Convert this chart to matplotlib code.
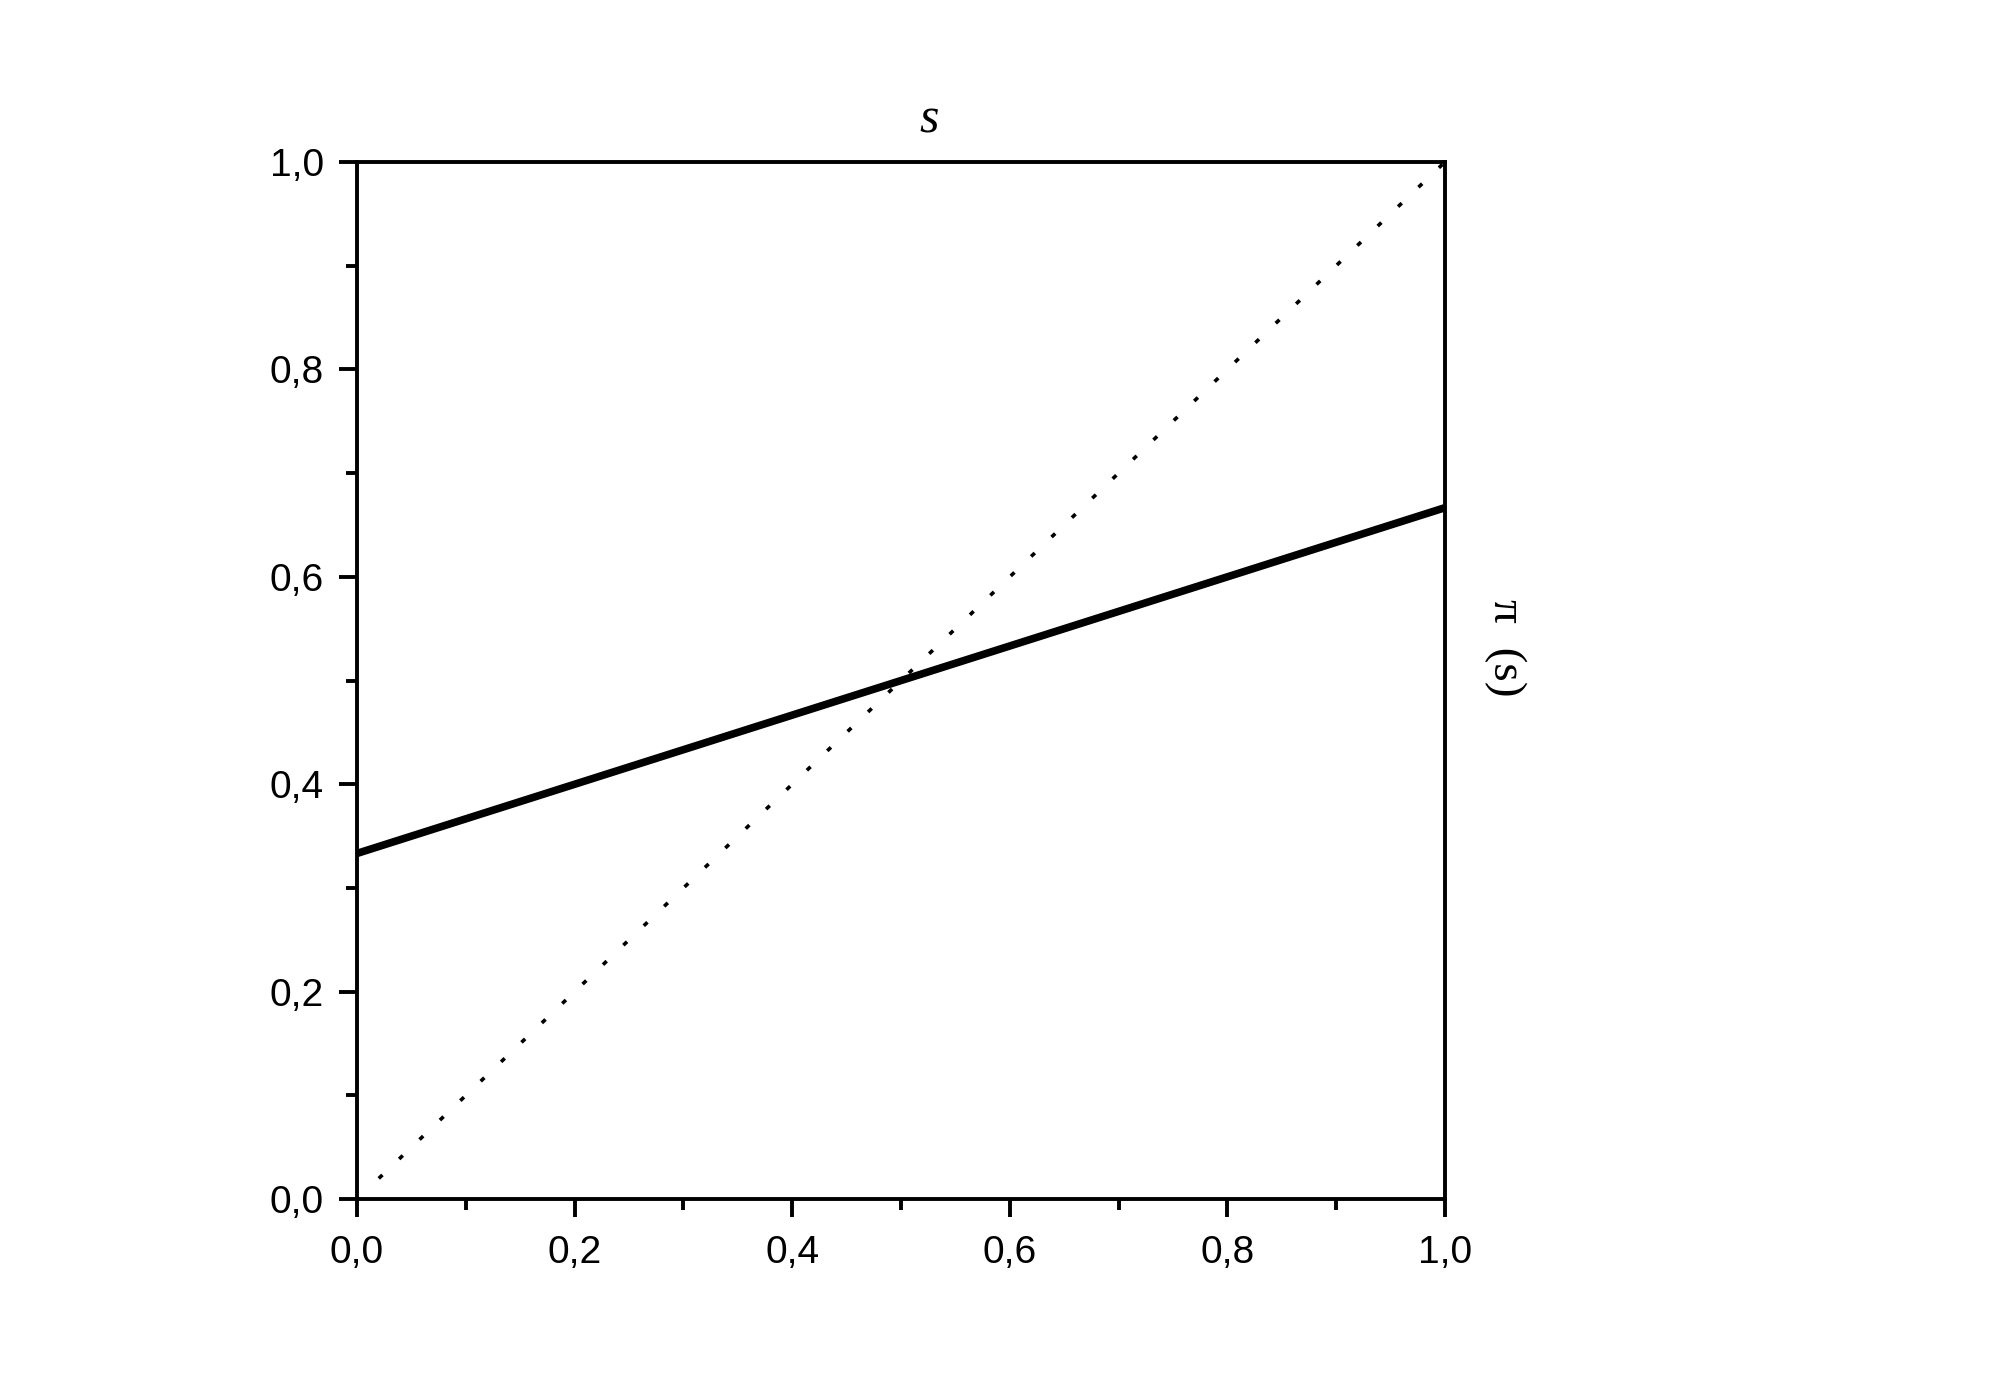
import matplotlib
matplotlib.use('Agg')
import matplotlib.pyplot as plt
from matplotlib.ticker import MultipleLocator, FuncFormatter

# 数据
s_line = [0.0, 1.0]
pi_line = [1.0 / 3.0, 2.0 / 3.0]
diag_x = [0.02, 1.0]
diag_y = [0.02, 1.0]

plt.rcParams['font.family'] = ['Liberation Sans', 'DejaVu Sans']

fig = plt.figure(figsize=(20, 13.96), dpi=100)
ax = fig.add_axes([0.1785, 0.141, 0.544, 0.743])

ax.plot(s_line, pi_line, color='black', linewidth=5.5, solid_capstyle='butt')
ax.plot(diag_x, diag_y, color='black', linewidth=2.6, linestyle=(0, (1.4, 6.4)))

ax.set_xlim(0, 1)
ax.set_ylim(0, 1)
ax.xaxis.set_major_locator(MultipleLocator(0.2))
ax.xaxis.set_minor_locator(MultipleLocator(0.1))
ax.yaxis.set_major_locator(MultipleLocator(0.2))
ax.yaxis.set_minor_locator(MultipleLocator(0.1))
comma = FuncFormatter(lambda v, p: ('%.1f' % v).replace('.', ','))
ax.xaxis.set_major_formatter(comma)
ax.yaxis.set_major_formatter(comma)

for sp in ax.spines.values():
    sp.set_linewidth(2.8)
ax.tick_params(which='major', direction='out', length=13, width=2.8, labelsize=28)
ax.tick_params(axis='x', which='major', pad=13)
ax.tick_params(axis='y', which='major', pad=11)
ax.tick_params(which='minor', direction='out', length=8, width=2.8)

fig.text(0.4645, 0.914, 's', fontsize=36, family='Liberation Serif', style='italic',
         ha='center', va='center')
fig.text(0.7525, 0.536, 'π  (s)', fontsize=34, family='Liberation Serif', rotation=270,
         ha='center', va='center')

fig.savefig('out.png', dpi=100)
